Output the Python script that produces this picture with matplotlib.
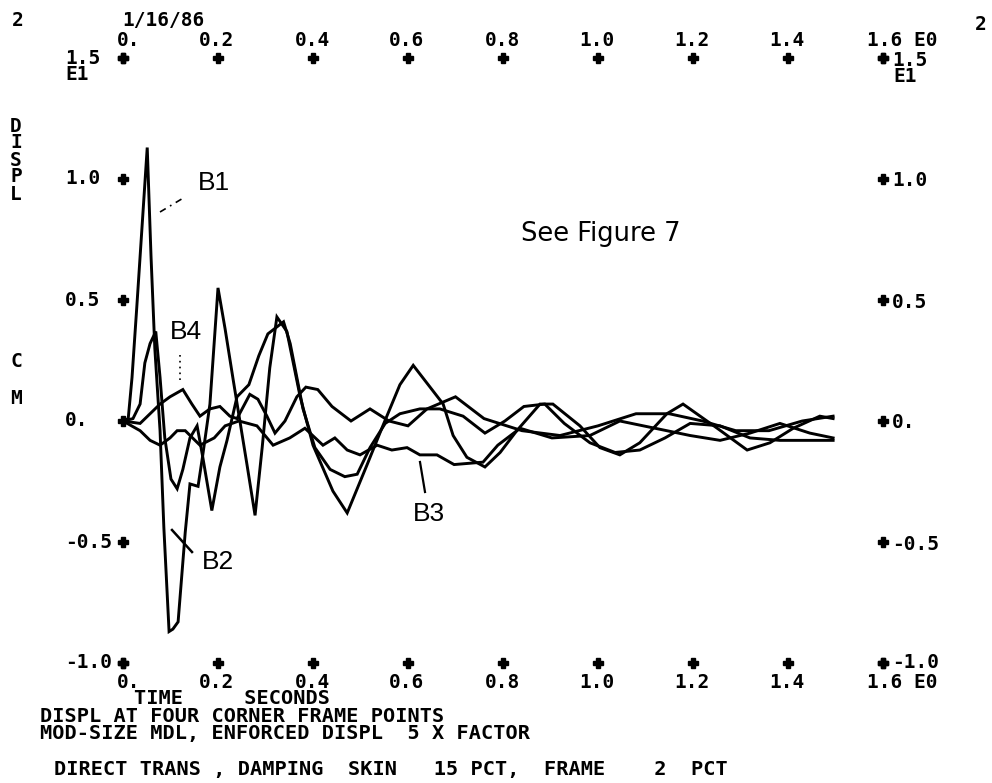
import numpy as np
import matplotlib
matplotlib.use("Agg")
import matplotlib.pyplot as plt

W, H = 992, 783

# ---------------- data (time in s, displacement in E1 cm) ----------------
t_b1 = [0, 0.011, 0.019, 0.029, 0.040, 0.051, 0.059, 0.067, 0.078, 0.086, 0.097, 0.105,
        0.116, 0.131, 0.141, 0.158, 0.168, 0.183, 0.200, 0.215, 0.232, 0.261, 0.278,
        0.293, 0.309, 0.324, 0.345, 0.373, 0.400, 0.442, 0.472, 0.514, 0.547, 0.583,
        0.611, 0.674, 0.695, 0.724, 0.762, 0.794, 0.829, 0.878, 0.905, 0.962, 1.004,
        1.046, 1.088, 1.145, 1.179, 1.251, 1.314, 1.362, 1.411, 1.467, 1.495]
y_b1 = [0, 0.01, 0.18, 0.47, 0.80, 1.13, 0.68, 0.30, -0.04, -0.44, -0.87, -0.86,
        -0.83, -0.46, -0.26, -0.27, -0.14, 0.07, 0.55, 0.38, 0.17, -0.18, -0.39,
        -0.11, 0.22, 0.43, 0.37, 0.10, -0.10, -0.29, -0.38, -0.18, -0.02, 0.15,
        0.23, 0.07, -0.06, -0.15, -0.19, -0.13, -0.04, 0.07, 0.07, -0.02, -0.11,
        -0.14, -0.09, 0.03, 0.07, -0.03, -0.12, -0.09, -0.03, 0.02, 0.01]

t_b4 = [0, 0.021, 0.036, 0.046, 0.057, 0.069, 0.078, 0.088, 0.101, 0.114, 0.126, 0.141,
        0.156, 0.168, 0.187, 0.204, 0.219, 0.240, 0.265, 0.286, 0.305, 0.338, 0.352,
        0.379, 0.404, 0.436, 0.467, 0.493, 0.520, 0.552, 0.583, 0.625, 0.667, 0.716,
        0.762, 0.804, 0.844, 0.888, 0.929, 0.983, 1.036, 1.088, 1.141, 1.194, 1.257,
        1.320, 1.383, 1.446, 1.495]
y_b4 = [0, 0.01, 0.07, 0.24, 0.32, 0.37, 0.18, -0.07, -0.24, -0.28, -0.20, -0.07,
        -0.02, -0.15, -0.37, -0.19, -0.08, 0.10, 0.15, 0.27, 0.36, 0.41, 0.32,
        0.05, -0.11, -0.20, -0.23, -0.22, -0.11, -0.01, 0.03, 0.05, 0.05, 0.02,
        -0.05, 0.00, 0.06, 0.07, -0.01, -0.09, -0.13, -0.12, -0.07, -0.01, -0.02,
        -0.07, -0.08, -0.08, -0.08]

t_b3 = [0, 0.036, 0.057, 0.078, 0.099, 0.114, 0.131, 0.162, 0.192, 0.215, 0.244, 0.282,
        0.316, 0.351, 0.383, 0.421, 0.446, 0.472, 0.499, 0.535, 0.566, 0.598, 0.625,
        0.661, 0.697, 0.758, 0.789, 0.836, 0.903, 0.983, 1.046, 1.120, 1.194, 1.257,
        1.320, 1.383, 1.446, 1.495]
y_b3 = [0, -0.04, -0.08, -0.10, -0.07, -0.04, -0.04, -0.10, -0.07, -0.02, 0.00, -0.02,
        -0.10, -0.07, -0.03, -0.10, -0.07, -0.12, -0.14, -0.10, -0.12, -0.11, -0.14,
        -0.14, -0.18, -0.17, -0.10, -0.03, -0.07, -0.06, 0.00, -0.03, -0.06, -0.08,
        -0.05, -0.01, -0.05, -0.07]

t_b2 = [0, 0.036, 0.057, 0.078, 0.099, 0.126, 0.145, 0.162, 0.183, 0.204, 0.225, 0.240,
        0.267, 0.284, 0.303, 0.320, 0.341, 0.366, 0.385, 0.410, 0.440, 0.480, 0.520,
        0.560, 0.600, 0.640, 0.700, 0.760, 0.840, 0.920, 1.000, 1.080, 1.150, 1.220,
        1.290, 1.360, 1.430, 1.495]
y_b2 = [0, -0.01, 0.03, 0.07, 0.10, 0.13, 0.07, 0.02, 0.05, 0.06, 0.02, 0.01,
        0.11, 0.09, 0.02, -0.05, 0.00, 0.10, 0.14, 0.13, 0.06, 0.00, 0.05, 0.00,
        -0.02, 0.05, 0.10, 0.01, -0.04, -0.06, -0.02, 0.03, 0.03, 0.00, -0.04,
        -0.04, 0.00, 0.02]

xticks = [0, 0.2, 0.4, 0.6, 0.8, 1.0, 1.2, 1.4, 1.6]
xlabels = ["0.", "0.2", "0.4", "0.6", "0.8", "1.0", "1.2", "1.4", "1.6 E0"]
yticks = [1.5, 1.0, 0.5, 0.0, -0.5, -1.0]
ylabels = ["1.5", "1.0", "0.5", "0.", "-0.5", "-1.0"]

curve_labels = ["B1", "B2", "B3", "B4"]

# ---------------- figure ----------------
fig = plt.figure(figsize=(W / 100, H / 100), dpi=100)
fig.patch.set_facecolor("white")
x0, x1, y0, y1 = 123, 883, 58, 663
ax = fig.add_axes([x0 / W, 1 - y1 / H, (x1 - x0) / W, (y1 - y0) / H])
ax.set_xlim(0, 1.6)
ax.set_ylim(-1.0, 1.5)
ax.axis("off")

for t, y in [(t_b1, y_b1), (t_b4, y_b4), (t_b3, y_b3), (t_b2, y_b2)]:
    ax.plot(t, y, color="black", lw=2.1, solid_joinstyle="miter", clip_on=False)

mono = dict(family="DejaVu Sans Mono", weight="bold", size=14, color="black")
plus = dict(ls="none", marker="P", ms=6.5, color="black", clip_on=False)

# plus tick marks on all four edges
ax.plot(xticks, [1.5] * len(xticks), **plus)
ax.plot(xticks, [-1.0] * len(xticks), **plus)
ax.plot([0] * len(yticks), yticks, **plus)
ax.plot([1.6] * len(yticks), yticks, **plus)

# x tick labels (top and bottom)
for xv, lab in zip(xticks, xlabels):
    if lab == "0.":
        ha, dx = "left", -6
    elif "E0" in lab:
        ha, dx = "left", -16
    else:
        ha, dx = "center", -1
    ax.annotate(lab, xy=(xv, 1.5), xytext=(dx, 18), textcoords="offset pixels",
                ha=ha, va="center", annotation_clip=False, **mono)
    ax.annotate(lab, xy=(xv, -1.0), xytext=(dx, -19), textcoords="offset pixels",
                ha=ha, va="center", annotation_clip=False, **mono)

# y tick labels (left and right)
for yv, lab in zip(yticks, ylabels):
    ax.annotate(lab, xy=(0, yv), xytext=(-58, 0), textcoords="offset pixels",
                ha="left", va="center", annotation_clip=False, **mono)
    if yv not in (1.5, -1.0):
        ax.annotate(lab, xy=(1.6, yv), xytext=(9, -2), textcoords="offset pixels",
                    ha="left", va="center", annotation_clip=False, **mono)
ax.annotate("1.5", xy=(1.6, 1.5), xytext=(9, -3), textcoords="offset pixels",
            ha="left", va="center", annotation_clip=False, **mono)
ax.annotate("E1", xy=(1.6, 1.5), xytext=(10, -18), textcoords="offset pixels",
            ha="left", va="center", annotation_clip=False, **mono)
ax.annotate("E1", xy=(0, 1.5), xytext=(-58, -16), textcoords="offset pixels",
            ha="left", va="center", annotation_clip=False, **mono)
ax.annotate("-1.0", xy=(1.6, -1.0), xytext=(9, 0), textcoords="offset pixels",
            ha="left", va="center", annotation_clip=False, **mono)


def ftxt(x, y, s, **kw):
    d = dict(mono)
    d.update(kw)
    fig.text(x / W, 1 - y / H, s, ha=d.pop("ha", "left"), va=d.pop("va", "center"), **d)


ftxt(12, 20, "2")
ftxt(975, 24, "2")
ftxt(122, 21, "1/16/86")
for i, ch in enumerate("DISPL"):
    ftxt(16, 126 + 17 * i, ch, ha="center")
ftxt(16, 361, "C", ha="center")
ftxt(16, 399, "M", ha="center")

ftxt(134, 699, "TIME     SECONDS", size=14.6)
ftxt(40, 716, "DISPL AT FOUR CORNER FRAME POINTS", size=14.6)
ftxt(40, 733, "MOD-SIZE MDL, ENFORCED DISPL  5 X FACTOR", size=14.6)
ftxt(54, 769, "DIRECT TRANS , DAMPING  SKIN   15 PCT,  FRAME    2  PCT", size=14.6)

# annotations
sans = dict(family=["Liberation Sans Narrow", "Liberation Sans", "DejaVu Sans"],
            size=19, color="black")
fig.text(521 / W, 1 - 234 / H, "See Figure 7", ha="left", va="center",
         family="DejaVu Sans", size=18.5)
pos = {"B1": (198, 183), "B2": (202, 562), "B3": (413, 514), "B4": (170, 332)}
for lab in curve_labels:
    x, y = pos[lab]
    fig.text(x / W, 1 - y / H, lab, ha="left", va="center", **sans)


def px2d(x, y):
    return ((x - x0) / (x1 - x0) * 1.6, 1.5 - (y - y0) / (y1 - y0) * 2.5)


def leader(p, q, **kw):
    a, b = px2d(*p), px2d(*q)
    ax.plot([a[0], b[0]], [a[1], b[1]], color="black", clip_on=False, **kw)


leader((160, 212), (185, 197), lw=1.2, ls=(0, (4, 3, 1, 3)))
leader((180, 355), (180, 383), lw=1.2, ls=(0, (1, 2.5)))
leader((172, 530), (192, 552), lw=1.8)
leader((420, 462), (425, 492), lw=1.6)

fig.savefig("out.png", dpi=100, facecolor="white")
